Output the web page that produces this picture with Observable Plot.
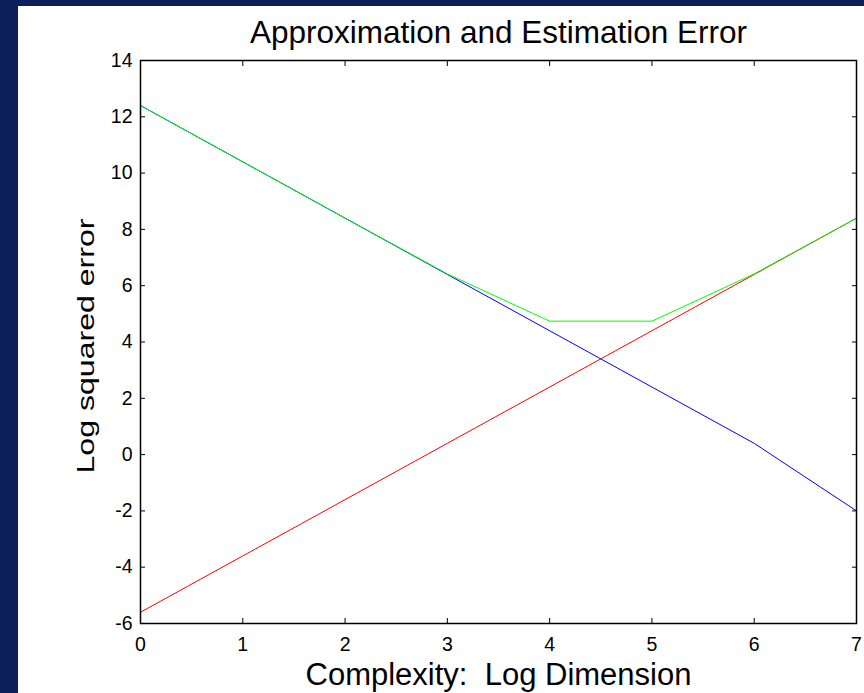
<!DOCTYPE html>
<html>
<head>
<meta charset="utf-8">
<script src="https://cdn.jsdelivr.net/npm/d3@7"></script>
<script src="https://cdn.jsdelivr.net/npm/@observablehq/plot@0.6"></script>
<style>
  html, body { margin: 0; padding: 0; }
  body { width: 864px; height: 693px; background: #0d1f5a; position: relative; overflow: hidden; }
  #panel { position: absolute; left: 18px; top: 6px; width: 846px; height: 687px; background: #fff; }
  #panel svg { display: block; }
</style>
</head>
<body>
<div id="panel"></div>
<script>
// Log dimension (complexity) on the x axis
const complexity = [0, 1, 2, 3, 4, 5, 6, 7];
// Approximation error (falls with complexity)
const approximation = [12.4, 10.4, 8.4, 6.4, 4.4, 2.4, 0.4, -2.0];
// Estimation error (rises with complexity)
const estimation = [-5.6, -3.6, -1.6, 0.4, 2.4, 4.4, 6.4, 8.4];
// Total error
const total = [12.4, 10.4, 8.4, 6.42, 4.74, 4.74, 6.42, 8.4];

const xTicks = [0, 1, 2, 3, 4, 5, 6, 7];
const yTicks = [-6, -4, -2, 0, 2, 4, 6, 8, 10, 12, 14];

const titleText = "Approximation and Estimation Error";
const xLabel = "Complexity:  Log Dimension";
const yLabel = "Log squared error";

const series = (ys) => complexity.map((x, i) => ({x, y: ys[i]}));

const font = "'Liberation Sans', Arial, sans-serif";

const chart = Plot.plot({
  width: 846,
  height: 687,
  marginLeft: 122,
  marginTop: 54,
  marginRight: 8,
  marginBottom: 70,
  style: {fontFamily: font, fontSize: "19px", color: "#000", background: "#fff"},
  x: {domain: [0, 7]},
  y: {domain: [-6, 14]},
  marks: [
    // tick labels
    Plot.axisX({ticks: xTicks, tickSize: 0, tickPadding: 14, fontSize: 19.5, tickFormat: d => String(d), label: null}),
    Plot.axisY({ticks: yTicks, tickSize: 0, tickPadding: 8, fontSize: 19.5, tickFormat: d => String(d), label: null}),
    // inward tick marks on all four sides
    Plot.axisX({anchor: "bottom", ticks: xTicks, tickSize: -5, text: null, label: null, strokeWidth: 1}),
    Plot.axisX({anchor: "top", ticks: xTicks, tickSize: -5, text: null, label: null, strokeWidth: 1}),
    Plot.axisY({anchor: "left", ticks: yTicks, tickSize: -5, text: null, label: null, strokeWidth: 1}),
    Plot.axisY({anchor: "right", ticks: yTicks, tickSize: -5, text: null, label: null, strokeWidth: 1}),
    Plot.lineY(series(estimation), {x: "x", y: "y", stroke: "#ff0000", strokeWidth: 1}),
    Plot.lineY(series(approximation), {x: "x", y: "y", stroke: "#0000ff", strokeWidth: 1}),
    Plot.lineY(series(total), {x: "x", y: "y", stroke: "#00ff00", strokeWidth: 1}),
    Plot.frame({stroke: "#000", strokeWidth: 1.5}),
    Plot.text([titleText], {frameAnchor: "top", dy: -28, fontSize: 31.5, textAnchor: "middle", lineAnchor: "middle", fill: "#000"}),
    Plot.text([xLabel], {frameAnchor: "bottom", dy: 52, fontSize: 31, textAnchor: "middle", lineAnchor: "middle", fill: "#000"}),
    Plot.text([yLabel], {frameAnchor: "left", dx: -54, dy: 4, rotate: -90, fontSize: 24, textAnchor: "middle", lineAnchor: "middle", fill: "#000", className: "ylabel"})
  ]
});

// the y label is drawn elongated along its length
d3.select(chart).selectAll(".ylabel text")
  .attr("textLength", 255)
  .attr("lengthAdjust", "spacingAndGlyphs");

document.getElementById("panel").appendChild(chart);
</script>
</body>
</html>
